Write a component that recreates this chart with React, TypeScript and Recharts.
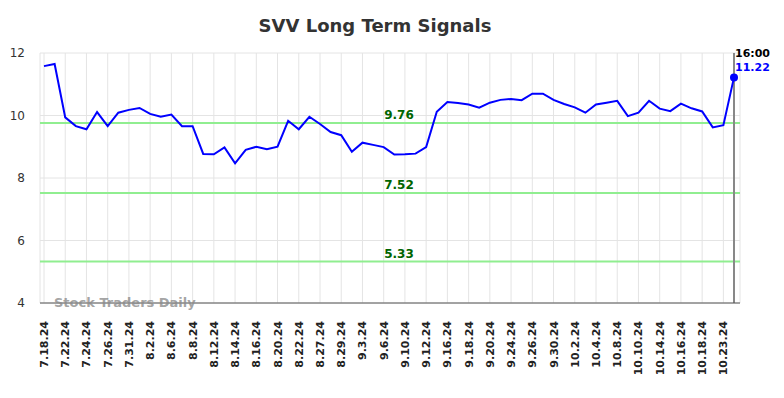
import {
  LineChart,
  Line,
  XAxis,
  YAxis,
  CartesianGrid,
  ReferenceLine,
} from "recharts";

const dates = [
  "7.18.24", "7.19.24", "7.22.24", "7.23.24", "7.24.24", "7.25.24", "7.26.24", "7.30.24",
  "7.31.24", "8.1.24", "8.2.24", "8.5.24", "8.6.24", "8.7.24", "8.8.24", "8.9.24",
  "8.12.24", "8.13.24", "8.14.24", "8.15.24", "8.16.24", "8.19.24", "8.20.24", "8.21.24",
  "8.22.24", "8.23.24", "8.27.24", "8.28.24", "8.29.24", "8.30.24", "9.3.24", "9.4.24",
  "9.6.24", "9.9.24", "9.10.24", "9.11.24", "9.12.24", "9.13.24", "9.16.24", "9.17.24",
  "9.18.24", "9.19.24", "9.20.24", "9.23.24", "9.24.24", "9.25.24", "9.26.24", "9.27.24",
  "9.30.24", "10.1.24", "10.2.24", "10.3.24", "10.4.24", "10.7.24", "10.8.24", "10.9.24",
  "10.10.24", "10.11.24", "10.14.24", "10.15.24", "10.16.24", "10.17.24", "10.18.24", "10.22.24",
  "10.23.24", "10.24.24",
];

const prices = [
  11.58, 11.65, 9.94, 9.66, 9.56, 10.11, 9.66, 10.09,
  10.18, 10.24, 10.05, 9.96, 10.03, 9.66, 9.66, 8.77,
  8.76, 8.98, 8.47, 8.9, 9.0, 8.92, 9.0, 9.83,
  9.56, 9.96, 9.73, 9.47, 9.37, 8.84, 9.13, 9.06,
  8.99, 8.75, 8.76, 8.78, 8.99, 10.12, 10.43, 10.4,
  10.35, 10.25, 10.41, 10.5, 10.53, 10.49, 10.7, 10.7,
  10.5, 10.37, 10.26, 10.09, 10.35, 10.41, 10.47, 9.98,
  10.09, 10.47, 10.22, 10.14, 10.38, 10.23, 10.13, 9.62,
  9.69, 11.22,
];

const signalLevels = [9.76, 7.52, 5.33];
const yTicks = [4, 6, 8, 10, 12];
const lastTime = "16:00";

const data = dates.map((d, i) => ({ date: d, price: prices[i] }));
const FONT = "'DejaVu Sans', sans-serif";

const XTick = ({ x, y, payload }: any) => (
  <g transform={`translate(${x},${y})`}>
    <text
      x={0}
      y={0}
      dy="0.36em"
      textAnchor="end"
      transform="rotate(-90)"
      fontSize={11}
      fontWeight="bold"
      fill="#222"
      fontFamily={FONT}
    >
      {payload.value}
    </text>
  </g>
);

const LastDot = ({ cx, cy, index }: any) => {
  if (index !== prices.length - 1) return <g key={`d-${index}`} />;
  return (
    <g key={`d-${index}`}>
      <circle cx={cx} cy={cy} r={4} fill="#0000ff" />
      <text x={cx + 1} y={cy - 24} dy="0.36em" fontSize={11} fontWeight="bold" fill="#000" fontFamily={FONT}>
        {lastTime}
      </text>
      <text x={cx + 1} y={cy - 10.5} dy="0.36em" fontSize={11} fontWeight="bold" fill="#0000ff" fontFamily={FONT}>
        {prices[prices.length - 1].toFixed(2)}
      </text>
    </g>
  );
};

export default function App() {
  return (
    <div style={{ position: "absolute", left: 0, top: 0, width: 784, height: 398, background: "#fff", fontFamily: FONT }}>
      <div
        style={{
          position: "absolute",
          left: 0,
          top: 15,
          width: 750,
          textAlign: "center",
          fontSize: 18,
          lineHeight: "21px",
          fontWeight: "bold",
          color: "#333",
        }}
      >
        SVV Long Term Signals
      </div>
      <LineChart
        width={784}
        height={398}
        data={data}
        margin={{ top: 53, right: 44, bottom: 35, left: 0 }}
      >
        <CartesianGrid stroke="#e4e4e4" strokeWidth={1} />
        <XAxis
          dataKey="date"
          interval={1}
          tickLine={false}
          tick={<XTick />}
          tickSize={0}
          tickMargin={18}
          height={60}
          padding={{ left: 4, right: 6 }}
          axisLine={{ stroke: "#555", strokeWidth: 1 }}
        />
        <YAxis
          domain={[4, 12]}
          ticks={yTicks}
          width={40}
          axisLine={false}
          tickLine={false}
          tickSize={6}
          tickMargin={9}
          tick={{ fontSize: 12, fill: "#333", fontFamily: FONT }}
        />
        {signalLevels.map((v) => (
          <ReferenceLine
            key={v}
            y={v}
            stroke="#90ee90"
            strokeWidth={2}
            label={{
              value: v.toFixed(2),
              position: "center",
              dx: 9,
              dy: -8,
              fill: "#006400",
              fontSize: 12,
              fontWeight: "bold",
              fontFamily: FONT,
            }}
          />
        ))}
        <ReferenceLine x={dates[dates.length - 1]} stroke="#888" strokeWidth={2} />
        <Line
          type="linear"
          dataKey="price"
          stroke="#0000ff"
          strokeWidth={2}
          dot={<LastDot />}
          activeDot={false}
          isAnimationActive={false}
        />
      </LineChart>
      <div
        style={{
          position: "absolute",
          left: 54,
          top: 294,
          fontSize: 13,
          lineHeight: "17px",
          fontWeight: "bold",
          color: "rgba(140,140,140,0.8)",
        }}
      >
        Stock Traders Daily
      </div>
    </div>
  );
}
